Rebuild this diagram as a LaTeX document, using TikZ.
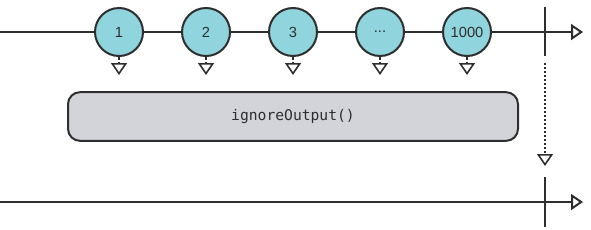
\documentclass[tikz,border=0pt]{standalone}
\usepackage{fontspec}
\setmainfont{Liberation Sans}
\setmonofont{DejaVu Sans Mono}
\usepackage{xcolor}
\usetikzlibrary{arrows.meta,positioning}
\definecolor{marblefill}{HTML}{90D4DE}
\definecolor{opfill}{HTML}{D2D4DA}
\definecolor{ink}{HTML}{2E2E2E}

\begin{document}
\begin{tikzpicture}[
  x=0.75pt, y=-0.75pt,
  font=\fontsize{11}{13}\selectfont,
  >={Triangle[open,length=9pt,width=12pt]},
  timeline/.style={->, line width=1.5pt, ink},
  tick/.style={line width=1.5pt, ink},
  marble/.style={circle, draw=ink, line width=1.5pt, fill=marblefill, text=ink, minimum size=36pt, inner sep=0pt},
  opbox/.style={draw=ink, line width=1.5pt, rounded corners=9pt, fill=opfill, text=ink, minimum width=337.5pt, minimum height=36.5pt, align=center},
  emit/.style={->, line width=1.2pt, ink, dash pattern=on 2pt off 1.5pt},
  pass/.style={->, line width=1.2pt, ink, dash pattern=on 1.5pt off 1.5pt}
]
\useasboundingbox (0,0) rectangle (591,229);

% input stream
\coordinate (instart) at (0,32);
\coordinate (inend) at (583,32);
\node[marble] (m1) at (119,32) {1};
\node[marble] (m2) at (206,32) {2};
\node[marble] (m3) at (293,32) {3};
\node[marble] (m4) at (380,32) {...};
\node[marble] (m5) at (467,32) {1000};
\draw[timeline] (instart) -- (m1) -- (m2) -- (m3) -- (m4) -- (m5) -- (inend);

\coordinate (intop) at (545,7);
\coordinate (inbot) at (545,56);
\draw[tick] (intop) -- (inbot);

% emissions
\coordinate (e1) at (119,75);
\coordinate (e2) at (206,75);
\coordinate (e3) at (293,75);
\coordinate (e4) at (380,75);
\coordinate (e5) at (467,75);
\draw[emit] (m1) -- (e1);
\draw[emit] (m2) -- (e2);
\draw[emit] (m3) -- (e3);
\draw[emit] (m4) -- (e4);
\draw[emit] (m5) -- (e5);

% operator
\node[opbox] (op) at (293,116.5) {\fontsize{11}{13}\ttfamily ignoreOutput()};

% completion passes through
\coordinate (donestart) at (545,63);
\coordinate (doneend) at (545,166);
\draw[pass] (donestart) -- (doneend);

% output stream
\coordinate (outstart) at (0,202);
\coordinate (outend) at (583,202);
\draw[timeline] (outstart) -- (outend);
\coordinate (outtop) at (545,177);
\coordinate (outbot) at (545,227);
\draw[tick] (outtop) -- (outbot);

\end{tikzpicture}
\end{document}
